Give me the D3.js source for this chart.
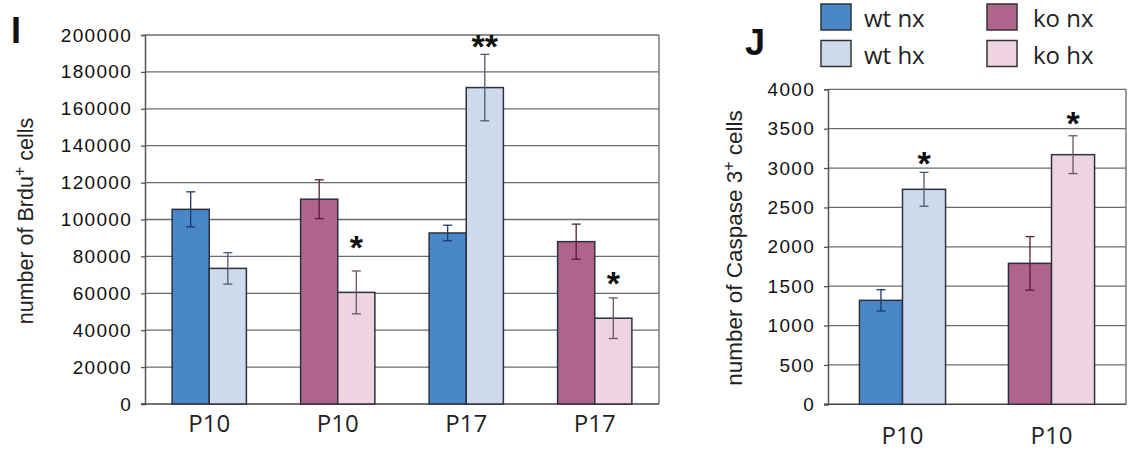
<!DOCTYPE html>
<html>
<head>
<meta charset="utf-8">
<script src="https://cdn.jsdelivr.net/npm/d3@7.9.0/dist/d3.min.js"></script>
<style>
  body { margin: 0; background: #fff; }
  svg { display: block; }
  .tick text { font-family: "Liberation Sans", Arial, sans-serif; font-size: 19px; letter-spacing: 1.3px; fill: #111; }
</style>
</head>
<body>
<svg id="fig" width="1130" height="455"></svg>
<script>
// legend / series
const legendLabels = ['wt nx', 'wt hx', 'ko nx', 'ko hx'];
const fillColors = { 'wt nx': '#4a87c9', 'wt hx': '#cfd9ec', 'ko nx': '#b0638b', 'ko hx': '#eed3e1' };
const errColors = { 'wt nx': '#1d3a6a', 'wt hx': '#4f5870', 'ko nx': '#551c3c', 'ko hx': '#6b5562' };

// panel I : Brdu+ cells
const brduLabels = ['P10', 'P10', 'P17', 'P17'];
const brduGeno = ['wt', 'ko', 'wt', 'ko'];
const brduNx = [105500, 111000, 92700, 88000];
const brduNxErr = [9500, 10500, 4200, 9500];
const brduHx = [73500, 60500, 171500, 46500];
const brduHxErr = [8500, 11600, 18000, 11000];
const brduStars = ['', '*', '**', '*'];
const brduStarAt = [0, 88000, 196500, 68500];
const brduTicks = [0, 20000, 40000, 60000, 80000, 100000, 120000, 140000, 160000, 180000, 200000];

// panel J : Caspase 3+ cells
const caspLabels = ['P10', 'P10'];
const caspGeno = ['wt', 'ko'];
const caspNx = [1320, 1790];
const caspNxErr = [135, 340];
const caspHx = [2730, 3170];
const caspHxErr = [215, 240];
const caspStars = ['*', '*'];
const caspStarAt = [3130, 3630];
const caspTicks = [0, 500, 1000, 1500, 2000, 2500, 3000, 3500, 4000];

const svg = d3.select('#fig');

function drawPanel(opt) {
  const g = svg.append('g');
  const idx = opt.labels.map((d, i) => i);

  const x0 = d3.scaleBand().domain(idx).range([opt.left, opt.right]);
  const x1 = d3.scaleBand().domain(['nx', 'hx']).range([0, x0.bandwidth()]).paddingOuter(0.73);
  const y = d3.scaleLinear().domain([0, d3.max(opt.ticks)]).range([opt.bottom, opt.top]);

  // grid lines
  g.selectAll('.grid').data(opt.ticks.filter(t => t > 0)).join('line')
    .attr('x1', opt.left).attr('x2', opt.right)
    .attr('y1', d => y(d)).attr('y2', d => y(d))
    .attr('stroke', '#6a6a6a').attr('stroke-width', 1.3);

  // right border
  g.append('line')
    .attr('x1', opt.right).attr('x2', opt.right)
    .attr('y1', opt.top).attr('y2', opt.bottom)
    .attr('stroke', '#7a7a7a').attr('stroke-width', 1.5);

  // y axis
  const axis = g.append('g')
    .attr('transform', `translate(${opt.left},0)`)
    .call(d3.axisLeft(y).tickValues(opt.ticks).tickSize(4).tickPadding(9).tickFormat(d3.format('d')));
  axis.select('.domain').attr('stroke', '#555').attr('stroke-width', 1.5);
  axis.selectAll('.tick line').attr('stroke', '#555').attr('stroke-width', 1.3);

  // bottom line
  g.append('line')
    .attr('x1', opt.left - 4).attr('x2', opt.right)
    .attr('y1', y(0)).attr('y2', y(0))
    .attr('stroke', '#444').attr('stroke-width', 1.6);

  const rows = [];
  idx.forEach(i => {
    rows.push({ i, cond: 'nx', key: opt.geno[i] + ' nx', v: opt.nx[i], e: opt.nxErr[i], star: '' });
    rows.push({ i, cond: 'hx', key: opt.geno[i] + ' hx', v: opt.hx[i], e: opt.hxErr[i], star: opt.stars[i], starAt: opt.starAt[i] });
  });
  const bx = d => x0(d.i) + x1(d.cond);

  g.selectAll('.bar').data(rows).join('rect')
    .attr('x', d => bx(d)).attr('width', x1.bandwidth())
    .attr('y', d => y(d.v)).attr('height', d => y(0) - y(d.v))
    .attr('fill', d => fillColors[d.key])
    .attr('stroke', '#2c3140').attr('stroke-width', 1.5);

  const cap = 4.5;
  const eb = g.selectAll('.err').data(rows).join('g')
    .attr('stroke', d => errColors[d.key]).attr('stroke-width', 1.3);
  eb.append('line')
    .attr('x1', d => bx(d) + x1.bandwidth() / 2).attr('x2', d => bx(d) + x1.bandwidth() / 2)
    .attr('y1', d => y(d.v + d.e)).attr('y2', d => y(d.v - d.e));
  eb.append('line')
    .attr('x1', d => bx(d) + x1.bandwidth() / 2 - cap).attr('x2', d => bx(d) + x1.bandwidth() / 2 + cap)
    .attr('y1', d => y(d.v + d.e)).attr('y2', d => y(d.v + d.e));
  eb.append('line')
    .attr('x1', d => bx(d) + x1.bandwidth() / 2 - cap).attr('x2', d => bx(d) + x1.bandwidth() / 2 + cap)
    .attr('y1', d => y(d.v - d.e)).attr('y2', d => y(d.v - d.e));

  g.selectAll('.star').data(rows.filter(d => d.star)).join('text')
    .attr('x', d => bx(d) + x1.bandwidth() / 2)
    .attr('y', d => y(d.starAt) + 17)
    .attr('text-anchor', 'middle')
    .style('font-family', '"Liberation Sans", Arial, sans-serif')
    .style('font-weight', 'bold').style('font-size', '34px').style('fill', '#111')
    .text(d => d.star);

  // category labels
  g.selectAll('.cat').data(idx).join('text')
    .attr('x', d => x0(d) + x0.bandwidth() / 2)
    .attr('y', opt.labelY)
    .attr('text-anchor', 'middle')
    .style('font-family', '"Open Sans", sans-serif').style('font-size', '24px').style('fill', '#222')
    .text(d => opt.labels[d]);

  // y title
  const t = g.append('text')
    .attr('transform', `translate(${opt.titleX},${opt.titleY}) rotate(-90)`)
    .attr('text-anchor', 'middle')
    .style('font-family', '"Liberation Sans", Arial, sans-serif').style('font-size', opt.titleSize).style('fill', '#222');
  t.append('tspan').text(opt.title[0]);
  t.append('tspan').attr('baseline-shift', 'super').style('font-size', '16px').text('+');
  t.append('tspan').text(opt.title[1]);

  // panel letter
  svg.append('text')
    .attr('x', opt.letterX).attr('y', opt.letterY)
    .style('font-family', '"Liberation Sans", Arial, sans-serif')
    .style('font-weight', 'bold').style('font-size', '36px').style('fill', '#111')
    .text(opt.letter);
}

drawPanel({
  labels: brduLabels, geno: brduGeno, nx: brduNx, nxErr: brduNxErr, hx: brduHx, hxErr: brduHxErr,
  stars: brduStars, starAt: brduStarAt, ticks: brduTicks,
  left: 145, right: 659, top: 35, bottom: 404, labelY: 432,
  title: ['number of Brdu', ' cells'], titleX: 33, titleY: 221, titleSize: '21.5px',
  letter: 'I', letterX: 11, letterY: 43
});

drawPanel({
  labels: caspLabels, geno: caspGeno, nx: caspNx, nxErr: caspNxErr, hx: caspHx, hxErr: caspHxErr,
  stars: caspStars, starAt: caspStarAt, ticks: caspTicks,
  left: 828, right: 1126, top: 89.3, bottom: 404.3, labelY: 444,
  title: ['number of Caspase 3', ' cells'], titleX: 742, titleY: 248, titleSize: '22.5px',
  letter: 'J', letterX: 745, letterY: 55
});

// legend
const lg = svg.append('g');
const legendPos = legendLabels.map((d, i) => ({ label: d, col: Math.floor(i / 2), row: i % 2 }));
const lgItem = lg.selectAll('g').data(legendPos).join('g')
  .attr('transform', d => `translate(${d.col ? 987 : 821},${4 + d.row * 36.5})`);
lgItem.append('rect')
  .attr('width', 30).attr('height', 26)
  .attr('fill', d => fillColors[d.label])
  .attr('stroke', '#333').attr('stroke-width', 1.5);
lgItem.append('text')
  .attr('x', d => d.col ? 46 : 43).attr('y', 23)
  .style('font-family', '"Open Sans", sans-serif').style('font-size', '24px').style('fill', '#222')
  .text(d => d.label);
</script>
</body>
</html>
